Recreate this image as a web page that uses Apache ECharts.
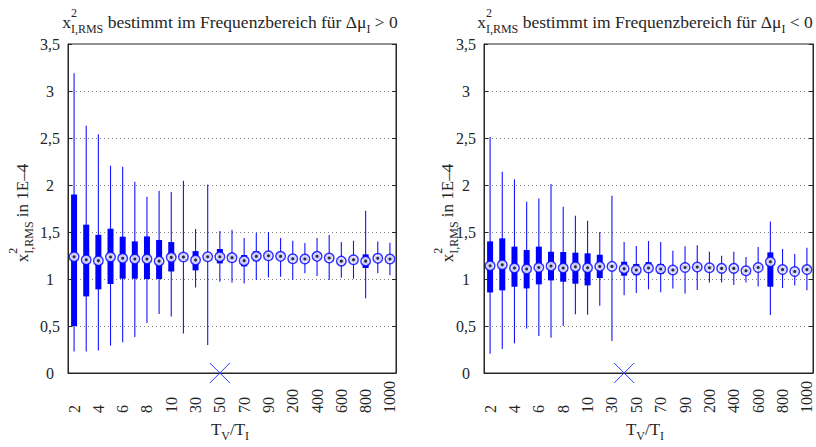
<!DOCTYPE html>
<html>
<head>
<meta charset="utf-8">
<script src="https://cdn.jsdelivr.net/npm/echarts@6/dist/echarts.min.js"></script>
<style>
html,body{margin:0;padding:0;background:#fff;}
#c{width:816px;height:447px;}
</style>
</head>
<body>
<div id="c"></div>
<script>
// ---------- data ----------
const categories = ['2','3','4','5','6','7','8','9','10','20','30','40','50','60','70','80','90','100','200','300','400','500','600','700','800','900','1000'];
const yTicks = [0, 0.5, 1, 1.5, 2, 2.5, 3, 3.5];

// left panel: Δμ_I > 0
const posLow  = [0.23,0.23,0.24,0.29,0.326,0.383,0.532,0.628,0.60,0.42,0.91,0.298,0.971,0.964,0.953,0.989,1.017,1.024,0.993,1.06,1.032,0.989,1.014,1.003,0.794,1.06,1.039];
const posQ1   = [0.50,0.815,0.89,0.947,1.003,1.003,1.0,1.0,1.08,1.20,1.092,1.21,1.166,1.20,1.134,1.19,1.22,1.21,1.19,1.19,1.21,1.20,1.165,1.18,1.117,1.195,1.19];
const posMed  = [1.237,1.205,1.195,1.234,1.22,1.213,1.213,1.19,1.23,1.234,1.202,1.237,1.237,1.227,1.195,1.241,1.248,1.241,1.216,1.213,1.241,1.223,1.19,1.205,1.19,1.22,1.213];
const posQ3   = [1.90,1.578,1.47,1.535,1.45,1.40,1.453,1.415,1.393,1.27,1.297,1.265,1.319,1.26,1.255,1.294,1.28,1.27,1.24,1.24,1.27,1.25,1.215,1.23,1.262,1.245,1.24];
const posHigh = [3.19,2.63,2.54,2.205,2.195,2.035,1.876,1.94,1.925,2.045,1.532,2.006,1.51,1.525,1.436,1.492,1.50,1.436,1.407,1.383,1.436,1.468,1.393,1.407,1.727,1.40,1.386];

// right panel: Δμ_I < 0
const negLow  = [0.205,0.255,0.315,0.474,0.394,0.376,0.50,0.624,0.62,0.716,0.34,0.826,0.851,0.89,0.858,0.90,0.847,0.883,0.964,0.964,0.936,0.964,0.921,0.617,0.904,0.932,0.879];
const negQ1   = [0.857,0.879,0.918,0.90,0.943,0.985,0.971,0.95,0.932,1.01,1.11,1.035,1.04,1.09,1.053,1.07,1.10,1.10,1.095,1.09,1.09,1.065,1.10,0.918,1.075,1.055,1.075];
const negMed  = [1.141,1.152,1.117,1.106,1.123,1.138,1.117,1.131,1.12,1.134,1.134,1.11,1.096,1.117,1.106,1.096,1.123,1.127,1.12,1.113,1.113,1.088,1.123,1.184,1.10,1.08,1.10];
const negQ3   = [1.40,1.432,1.344,1.308,1.344,1.29,1.287,1.28,1.273,1.258,1.16,1.184,1.16,1.18,1.16,1.12,1.15,1.155,1.145,1.135,1.135,1.11,1.15,1.283,1.125,1.105,1.125];
const negHigh = [2.51,2.141,2.06,1.822,1.857,2.01,1.769,1.673,1.62,1.50,1.886,1.393,1.351,1.404,1.393,1.301,1.348,1.358,1.29,1.248,1.29,1.234,1.34,1.613,1.319,1.266,1.333];

// "X" markers (category, value)
const posMarker = ['50', 0];
const negMarker = ['40', 0];

// ---------- helpers ----------
const FF = 'Liberation Serif, Times New Roman, serif';
const TXT = '#262626';
const BLUE = '#0000ff';
const mctx = document.createElement('canvas').getContext('2d');
function tw(t, s){ mctx.font = s + 'px ' + FF; return mctx.measureText(t).width; }

// text with sub/superscripts, drawn as real text elements
function mathText(parts, ax, ay, rot){
  const w = parts.map(p => tw(p.t, p.s));
  let x = 0, pend = 0; const xs = [];
  parts.forEach((p, i) => {
    xs.push(x);
    if (p.stack) { pend = w[i]; } else { x += Math.max(w[i], pend); pend = 0; }
  });
  const total = x;
  return {
    type: 'group', x: ax, y: ay, rotation: rot || 0, silent: true,
    children: parts.map((p, i) => ({
      type: 'text', x: xs[i] - total/2, y: (p.dy || 0) - 0.34*p.s,
      style: { text: p.t, font: p.s + 'px ' + FF, fill: TXT,
               align: 'left', verticalAlign: 'middle', textAlign: 'left', textVerticalAlign: 'middle' }
    }))
  };
}
function titleParts(sign){
  return [
    {t:'x', s:17.5}, {t:'2', s:12, dy:-11, stack:true}, {t:'I,RMS', s:12, dy:5},
    {t:' bestimmt im Frequenzbereich für Δμ', s:17.5}, {t:'I', s:12, dy:5}, {t:' ' + sign + ' 0', s:17.5}
  ];
}
const yNameParts = [
  {t:'x', s:17}, {t:'2', s:12, dy:-11, stack:true}, {t:'I,RMS', s:12, dy:5}, {t:' in 1E–4', s:17}
];
const xNameParts = [
  {t:'T', s:17}, {t:'V', s:12, dy:5}, {t:'/T', s:17}, {t:'I', s:12, dy:5}
];

function boxData(lo, q1, md, q3, hi){ return categories.map((c, i) => [i, lo[i], q1[i], md[i], q3[i], hi[i]]); }
function renderBox(params, api){
  const i = api.value(0);
  const pLo = api.coord([i, api.value(1)]);
  const pQ1 = api.coord([i, api.value(2)]);
  const pQ3 = api.coord([i, api.value(4)]);
  const pHi = api.coord([i, api.value(5)]);
  return { type:'group', children:[
    { type:'line', shape:{x1:pLo[0], y1:pLo[1], x2:pHi[0], y2:pHi[1]}, style:{stroke:'#1414ff', lineWidth:1.1} },
    { type:'rect', shape:{x:pQ1[0]-3, y:pQ3[1], width:6, height:pQ1[1]-pQ3[1]}, style:{fill:BLUE} }
  ]};
}
function renderX(params, api){
  const p = api.coord([api.value(0), api.value(1)]);
  const r = 10;
  return { type:'group', children:[
    { type:'line', shape:{x1:p[0]-r, y1:p[1]-r, x2:p[0]+r, y2:p[1]+r}, style:{stroke:'#2a3cff', lineWidth:1} },
    { type:'line', shape:{x1:p[0]-r, y1:p[1]+r, x2:p[0]+r, y2:p[1]-r}, style:{stroke:'#2a3cff', lineWidth:1} }
  ]};
}
function panelSeries(xi, yi, lo, q1, md, q3, hi, marker){
  return [
    { type:'custom', xAxisIndex:xi, yAxisIndex:yi, renderItem:renderBox, data:boxData(lo,q1,md,q3,hi),
      encode:{x:0, y:[1,2,3,4,5]}, z:2, silent:true },
    { type:'scatter', xAxisIndex:xi, yAxisIndex:yi, data:md.map((v,i)=>[i,v]), symbol:'circle', symbolSize:9.5,
      itemStyle:{color:'#ffffff', borderColor:BLUE, borderWidth:1.5}, z:3, silent:true },
    { type:'scatter', xAxisIndex:xi, yAxisIndex:yi, data:md.map((v,i)=>[i,v]), symbol:'circle', symbolSize:3,
      itemStyle:{color:'#000000'}, z:4, silent:true },
    { type:'custom', xAxisIndex:xi, yAxisIndex:yi, renderItem:renderX, clip:false,
      data:[[categories.indexOf(marker[0]), marker[1]]], encode:{x:0, y:1}, z:5, silent:true }
  ];
}

const axisLineStyle = {color:'#262626', width:1};
function xAx(g){
  return { type:'category', gridIndex:g, data:categories, boundaryGap:true,
    axisLine:{show:true, onZero:false, lineStyle:axisLineStyle}, axisTick:{show:false},
    axisLabel:{interval:1, rotate:90, align:'left', verticalAlign:'middle', margin:40,
               fontFamily:FF, fontSize:16, color:TXT},
    splitLine:{show:false} };
}
function yLeft(g){
  return { type:'value', gridIndex:g, position:'left', min:yTicks[0], max:yTicks[yTicks.length-1], interval:0.5,
    axisLine:{show:true, lineStyle:axisLineStyle}, axisTick:{show:true, inside:true, length:4, lineStyle:axisLineStyle},
    axisLabel:{formatter:v => String(v).replace('.', ','), align:'center', margin:18, fontFamily:FF, fontSize:16, color:TXT},
    splitLine:{show:true, lineStyle:{type:[1,3], color:'#808080', width:1}} };
}
function yRight(g){
  return { type:'value', gridIndex:g, position:'right', min:yTicks[0], max:yTicks[yTicks.length-1], interval:0.5,
    axisLine:{show:true, lineStyle:axisLineStyle}, axisTick:{show:true, inside:true, length:4, lineStyle:axisLineStyle},
    axisLabel:{show:false}, splitLine:{show:false} };
}

const chart = echarts.init(document.getElementById('c'), null, {renderer:'svg'});
chart.setOption({
  animation:false,
  backgroundColor:'#ffffff',
  grid:[
    {left:68, top:44, width:328, height:329, show:true, borderColor:'#262626', borderWidth:1, backgroundColor:'transparent'},
    {left:484, top:44, width:329, height:329, show:true, borderColor:'#262626', borderWidth:1, backgroundColor:'transparent'}
  ],
  xAxis:[xAx(0), xAx(1)],
  yAxis:[yLeft(0), yRight(0), yLeft(1), yRight(1)],
  series:[].concat(
    panelSeries(0, 0, posLow, posQ1, posMed, posQ3, posHigh, posMarker),
    panelSeries(1, 2, negLow, negQ1, negMed, negQ3, negHigh, negMarker)
  ),
  graphic:[
    mathText(titleParts('>'), 230, 28, 0),
    mathText(titleParts('<'), 645, 28, 0),
    mathText(yNameParts, 28, 213, Math.PI/2),
    mathText(yNameParts, 453, 213, Math.PI/2),
    mathText(xNameParts, 230, 435, 0),
    mathText(xNameParts, 645, 435, 0)
  ]
});
</script>
</body>
</html>
